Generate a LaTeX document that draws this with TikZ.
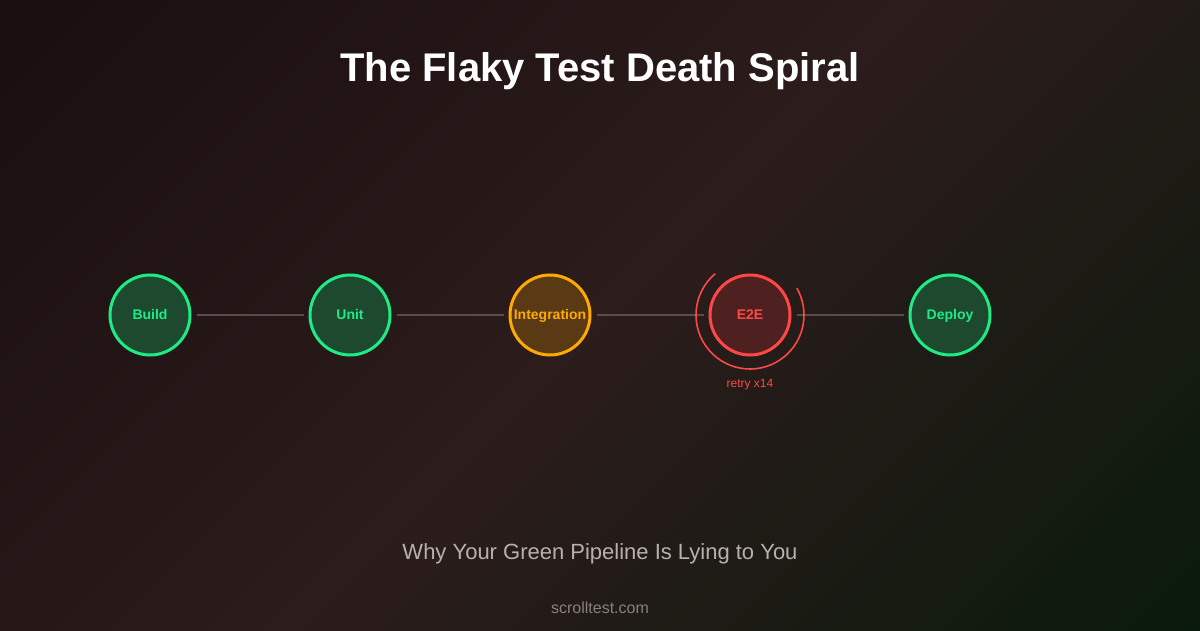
\documentclass[tikz,border=0pt]{standalone}
\usepackage{fontspec}
\setmainfont{Liberation Sans}
\begin{document}
\begin{tikzpicture}[x=1pt,y=1pt,
  stage/.style={circle,minimum size=80pt,inner sep=0pt,line width=3pt,text height=10pt,text depth=0pt,font=\fontsize{14}{16}\selectfont\bfseries},
  good/.style={stage,draw=okG,fill=okF,text=okG},
  warn/.style={stage,draw=wnO,fill=wnF,text=wnO},
  bad/.style={stage,draw=bdR,fill=bdF,text=bdR},
  link/.style={draw=lnk,line width=2pt,shorten <=5pt,shorten >=5pt},
  label/.style={anchor=base,inner sep=0pt}]
\definecolor{bgA}{HTML}{1A0E0E}
\definecolor{bgB}{HTML}{2C1C1C}
\definecolor{bgC}{HTML}{0A1A0C}
\definecolor{okG}{HTML}{1EEB85}
\definecolor{okF}{HTML}{1D4A2E}
\definecolor{wnO}{HTML}{FFAA00}
\definecolor{wnF}{HTML}{5A3A14}
\definecolor{bdR}{HTML}{FF4747}
\definecolor{bdF}{HTML}{4F2020}
\definecolor{lnk}{HTML}{5A4C4C}
\definecolor{subT}{HTML}{B8B0B0}
\definecolor{footT}{HTML}{888080}
\useasboundingbox (0,0) rectangle (1200,630);
\begin{scope}
\clip (0,0) rectangle (1200,630);
\shade[left color=bgA, right color=bgC, middle color=bgB, shading angle=45] (600,315) ++(-647,-647) rectangle ++(1294,1294);
\end{scope}
\node[label,text=white,font=\fontsize{40}{46}\selectfont\bfseries] (title) at (600,548) {The Flaky Test Death Spiral};
\node[good] (build) at (150,315) {Build};
\node[good] (unit) at (350,315) {Unit};
\node[warn] (integ) at (550,315) {Integration};
\node[bad] (e2e) at (750,315) {E2E};
\node[good] (deploy) at (950,315) {Deploy};
\draw[link] (build) -- (unit);
\draw[link] (unit) -- (integ);
\draw[link] (integ) -- (e2e);
\draw[link] (e2e) -- (deploy);
\draw[bdR,line width=1.6pt] (e2e.center) ++(130:54) arc[start angle=130,end angle=390,radius=54];
\node[label,text=bdR,font=\fontsize{12}{14}\selectfont] (retry) at (750,242) {retry x14};
\node[label,text=subT,font=\fontsize{22}{26}\selectfont] (sub) at (600,71) {Why Your Green Pipeline Is Lying to You};
\node[label,text=footT,font=\fontsize{16}{19}\selectfont] (foot) at (600,17) {scrolltest.com};
\end{tikzpicture}
\end{document}
